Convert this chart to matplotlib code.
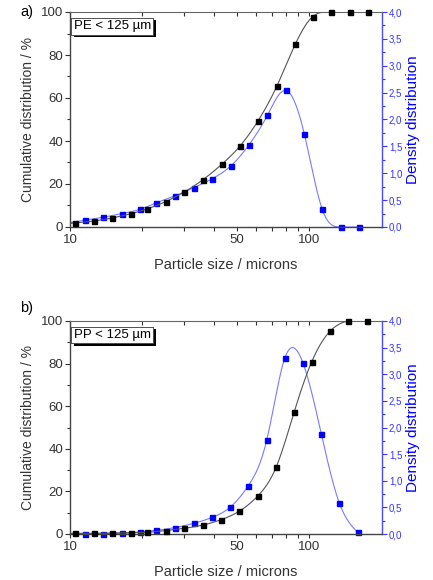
import numpy as np
import matplotlib
matplotlib.use("Agg")
import matplotlib.pyplot as plt
from matplotlib.ticker import FixedLocator, NullFormatter, FuncFormatter, MultipleLocator
from matplotlib.patches import Rectangle

plt.rcParams['font.family'] = ['Liberation Sans', 'DejaVu Sans']

# ---- data: panel a) PE < 125 um ----
pe_cum_x = [10.5, 12.6, 15.0, 18.0, 21.0, 25.1, 30.1, 36.0, 43.2, 51.3, 61.3, 73.4, 87.6, 103.5, 123.8, 148.5, 175.7]
pe_cum_y = [1.9, 2.8, 4.2, 6.2, 8.4, 11.8, 16.3, 22.0, 29.2, 37.5, 49.5, 65.6, 85.0, 97.8, 100, 100, 100]
pe_den_x = [11.5, 13.7, 16.5, 19.6, 23.0, 27.5, 32.9, 39.4, 47.2, 56.1, 67.0, 80.2, 95.6, 113.6, 135.6, 161.9]
pe_den_y = [0.125, 0.18, 0.25, 0.33, 0.45, 0.58, 0.73, 0.90, 1.14, 1.53, 2.08, 2.54, 1.73, 0.33, 0.0, 0.0]

# ---- data: panel b) PP < 125 um ----
pp_cum_x = [10.5, 12.6, 15.0, 18.0, 21.0, 25.1, 30.1, 36.0, 42.8, 51.1, 61.0, 73.0, 86.6, 102.6, 122.7, 146.1, 174.3]
pp_cum_y = [0.3, 0.3, 0.5, 0.6, 0.8, 1.6, 2.7, 4.2, 6.7, 10.7, 17.8, 31.6, 57.1, 80.8, 95.3, 100, 100]
pp_den_x = [11.5, 13.7, 16.5, 19.6, 23.0, 27.5, 32.9, 39.3, 46.7, 55.8, 66.6, 79.3, 94.4, 112.6, 134.0, 159.7]
pp_den_y = [0.006, 0.006, 0.013, 0.04, 0.07, 0.12, 0.20, 0.31, 0.50, 0.91, 1.77, 3.31, 3.21, 1.88, 0.58, 0.03]

panel_letters = ['a)', 'b)']
panel_titles = ['PE < 125 µm', 'PP < 125 µm']
x_tick_labels = {10: '10', 50: '50', 100: '100'}


def natural_spline(x, y, xs):
    x = np.asarray(x, float); y = np.asarray(y, float)
    n = len(x)
    h = np.diff(x)
    A = np.zeros((n, n)); b = np.zeros(n)
    A[0, 0] = 1; A[-1, -1] = 1
    for i in range(1, n - 1):
        A[i, i - 1] = h[i - 1]
        A[i, i] = 2 * (h[i - 1] + h[i])
        A[i, i + 1] = h[i]
        b[i] = 6 * ((y[i + 1] - y[i]) / h[i] - (y[i] - y[i - 1]) / h[i - 1])
    M = np.linalg.solve(A, b)
    idx = np.clip(np.searchsorted(x, xs) - 1, 0, n - 2)
    x0 = x[idx]; x1 = x[idx + 1]; hh = x1 - x0
    a = (x1 - xs) / hh; c = (xs - x0) / hh
    return (a * y[idx] + c * y[idx + 1]
            + ((a ** 3 - a) * M[idx] + (c ** 3 - c) * M[idx + 1]) * hh ** 2 / 6)


def smooth(xd, yd, lo, hi):
    lx = np.log10(xd)
    xs = np.linspace(np.log10(lo), np.log10(xd[-1]), 400)
    ys = natural_spline(lx, yd, xs)
    return 10 ** xs, np.clip(ys, 0.0, hi)


fig = plt.figure(figsize=(4.33, 5.8), dpi=100)
positions = [[70 / 433, 1 - 227 / 580, 312 / 433, 215 / 580],
             [70 / 433, 1 - 534 / 580, 312 / 433, 213 / 580]]
datasets = [(pe_cum_x, pe_cum_y, pe_den_x, pe_den_y), (pp_cum_x, pp_cum_y, pp_den_x, pp_den_y)]
letter_y = [1 - 12 / 580, 1 - 308 / 580]

grey = '#333333'
blue = '#0000ff'
blue_line = '#7a7aff'
blue_txt = '#3535ff'
xmax = 10 ** (1 + 312 / 239)

title_texts = []
for k in range(2):
    cx, cy, dx, dy = datasets[k]
    ax = fig.add_axes(positions[k])
    ax2 = ax.twinx()
    ax.set_zorder(ax2.get_zorder() + 1)
    ax.patch.set_visible(False)

    sx, sy = smooth(cx, cy, 10, 100.5)
    ax.plot(sx, sy, color='#555555', lw=0.8, zorder=2)
    ax.plot(cx, cy, 's', color='black', ms=3.6, zorder=3, clip_on=False)

    tx, ty = smooth(dx, dy, 10, 10)
    ax2.plot(tx, ty, color=blue_line, lw=0.8, zorder=2)
    ax2.plot(dx, dy, 's', color=blue, ms=3.6, zorder=3, clip_on=False)

    ax.set_xscale('log')
    ax.set_xlim(10, xmax)
    ax.set_ylim(0, 100)
    ax2.set_ylim(0, 4)

    xt = [10, 20, 30, 40, 50, 60, 70, 80, 90, 100]
    ax.xaxis.set_major_locator(FixedLocator(xt))
    ax.xaxis.set_minor_locator(FixedLocator([]))
    ax.xaxis.set_major_formatter(FuncFormatter(lambda v, p: x_tick_labels.get(int(round(v)), '')))
    ax.xaxis.set_minor_formatter(NullFormatter())
    ax.yaxis.set_major_locator(MultipleLocator(20))
    ax.yaxis.set_minor_locator(MultipleLocator(10))
    ax2.yaxis.set_major_locator(MultipleLocator(0.5))
    ax2.yaxis.set_minor_locator(MultipleLocator(0.25))
    ax2.yaxis.set_major_formatter(FuncFormatter(lambda v, p: ('%.1f' % v).replace('.', ',')))

    ax.tick_params(axis='x', which='both', direction='out', length=3, width=0.8,
                   colors=grey, labelsize=9.5, top=True, pad=2)
    ax.tick_params(axis='x', which='both', top=True, labeltop=False)
    ax.tick_params(axis='y', which='major', direction='out', length=3.5, width=0.8,
                   colors=grey, labelsize=9.5, pad=1.5)
    ax.tick_params(axis='y', which='minor', direction='out', length=2, width=0.8, colors=grey)
    ax2.tick_params(axis='y', which='major', direction='out', length=3.5, width=0.8,
                    colors=blue_txt, labelsize=7, pad=1.5)
    ax2.tick_params(axis='y', which='minor', direction='out', length=2, width=0.8, colors=blue_txt)
    for t in ax.xaxis.get_major_ticks():
        t.tick2line.set_marker(3)

    for sp in ['left', 'bottom']:
        ax.spines[sp].set_color('#444444')
        ax.spines[sp].set_linewidth(1.0)
    ax.spines['top'].set_color('#666666')
    ax.spines['right'].set_visible(False)
    ax2.spines['right'].set_color('#4a4aff')
    ax2.spines['right'].set_linewidth(1.0)
    for sp in ['left', 'bottom', 'top']:
        ax2.spines[sp].set_visible(False)

    ax.set_xlabel('Particle size / microns', fontsize=10.5, color=grey, labelpad=9)
    ax.set_ylabel('Cumulative distribution / %', fontsize=10, color=grey, labelpad=4)
    ax2.set_ylabel('Density distribution', fontsize=11, color=blue, labelpad=3)

    t = ax.text(0.012, 0.962, panel_titles[k], transform=ax.transAxes, fontsize=9.5, color='black',
                va='top', ha='left', zorder=6,
                bbox=dict(boxstyle='square,pad=0.18', fc='white', ec='#444444', lw=0.6))
    title_texts.append((ax, t))

    fig.text(20 / 433, letter_y[k], panel_letters[k], fontsize=10.5, color='black',
             ha='left', va='center')

# shadows behind the title boxes
fig.canvas.draw()
for ax, t in title_texts:
    bb = t.get_bbox_patch().get_window_extent()
    inv = fig.transFigure.inverted()
    (x0, y0), (x1, y1) = inv.transform([[bb.x0 + 2.5, bb.y0 - 2.5], [bb.x1 + 2.5, bb.y1 - 2.5]])
    fig.add_artist(Rectangle((x0, y0), x1 - x0, y1 - y0, transform=fig.transFigure,
                             fc='black', ec='none', zorder=5))
    t.set_zorder(20)
    fig.add_artist(t)

fig.savefig('out.png', dpi=100)
